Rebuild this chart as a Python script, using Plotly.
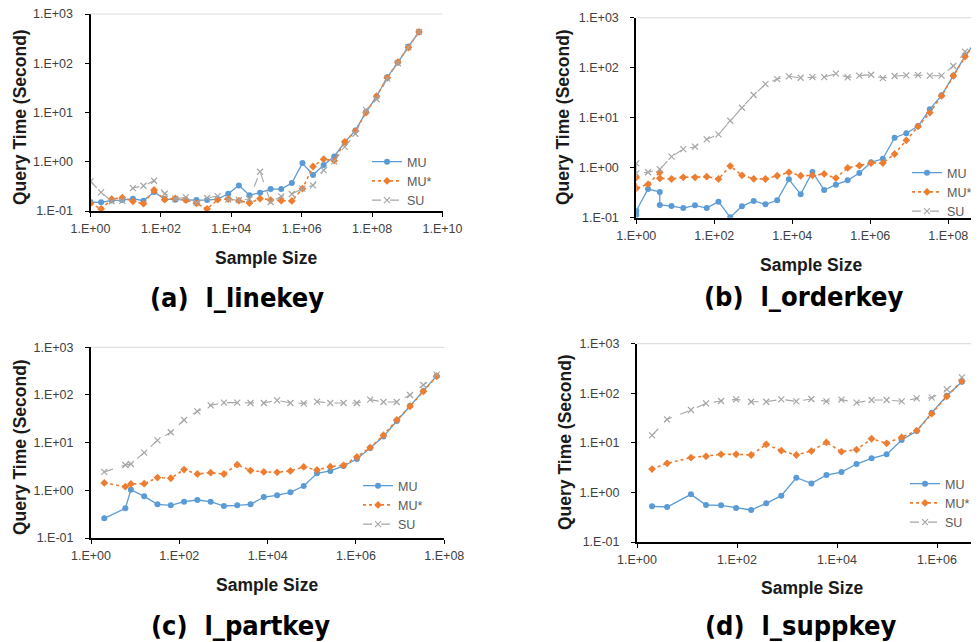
import plotly.graph_objects as go

W, H = 979, 642
OFF = 8  # page body margin of the rendered html

# ---------------- data ----------------
# (a) l_linekey
size_a = [1, 2, 4, 8, 16, 32, 64, 128, 256, 512, 1024, 2048, 4096, 8192, 16384, 32768,
          65536, 131072, 262144, 524288, 1048576, 2097152, 4194304, 8388608, 16777216,
          33554432, 67108864, 134217728, 268435456, 536870912, 1073741824, 2147483648]
mu_a = [0.152, 0.150, 0.164, 0.167, 0.178, 0.162, 0.243, 0.175, 0.170, 0.167, 0.167, 0.167,
        0.175, 0.224, 0.331, 0.208, 0.236, 0.279, 0.279, 0.370, 0.94, 0.537, 0.855, 1.28,
        2.5, 4.32, 10.2, 21.1, 52, 103, 218, 432]
mus_a = [0.143, 0.110, 0.175, 0.186, 0.157, 0.141, 0.267, 0.170, 0.181, 0.167, 0.143, 0.110,
         0.170, 0.175, 0.162, 0.145, 0.178, 0.167, 0.162, 0.160, 0.284, 0.80, 1.13, 1.05,
         2.54, 4.19, 10.0, 21.4, 50.5, 105, 208, 432]
su_a = [0.40, 0.239, 0.157, 0.160, 0.292, 0.326, 0.412, 0.224, 0.178, 0.189, 0.148, 0.184,
        0.201, 0.170, 0.167, 0.175, 0.627, 0.152, 0.198, 0.221, 0.284, 0.331, 0.677, 1.02,
        2.01, 3.7, 11.3, 18.6, 48.9, 100, 211, 432]

# (b) l_orderkey
size_b_mu = [1, 1, 2, 4, 4, 8, 16, 32, 64, 128, 256, 512, 1024, 2048, 4096, 8192, 16384,
             32768, 65536, 131072, 262144, 524288, 1048576, 2097152, 4194304, 8388608,
             16777216, 33554432, 67108864, 134217728, 268435456, 536870912]
mu_b = [0.113, 0.138, 0.375, 0.327, 0.180, 0.171, 0.156, 0.177, 0.156, 0.209, 0.102, 0.169,
        0.216, 0.185, 0.223, 0.586, 0.294, 0.82, 0.358, 0.457, 0.56, 0.783, 1.28, 1.51,
        3.98, 4.88, 6.82, 14.7, 28, 69.2, 171, 358]
size_b_mus = [1, 1, 2, 4, 4, 8, 16, 32, 64, 128, 256, 512, 1024, 2048, 4096, 8192, 16384,
              32768, 65536, 131072, 262144, 524288, 1048576, 2097152, 4194304, 8388608,
              16777216, 33554432, 67108864, 134217728, 268435456, 536870912]
mus_b = [0.643, 0.387, 0.466, 0.81, 0.614, 0.594, 0.643, 0.643, 0.66, 0.594, 1.08, 0.705,
         0.60, 0.594, 0.69, 0.81, 0.69, 0.70, 0.75, 0.62, 0.99, 1.1, 1.24, 1.24, 1.88,
         3.53, 6.7, 12.6, 27.2, 69, 166, 347]
size_b_su = [1, 1, 2, 4, 8, 16, 32, 64, 128, 256, 512, 1024, 2048, 4096, 8192, 16384,
             32768, 65536, 131072, 262144, 524288, 1048576, 2097152, 4194304, 8388608,
             16777216, 33554432, 67108864, 134217728, 268435456, 536870912]
su_b = [1.22, 0.77, 0.81, 0.93, 1.66, 2.36, 2.63, 3.69, 4.64, 8.7, 15.8, 28.4, 47.1, 59.3,
        67.1, 63, 65, 65, 75.9, 64, 69.2, 72.4, 62.1, 68.1, 70.3, 71.3, 69.2, 69.2, 108,
        209, 386]

# (c) l_partkey
size_c = [2, 6, 8, 16, 32, 64, 128, 256, 512, 1024, 2048, 4096, 8192, 16384, 32768, 65536,
          131072, 262144, 524288, 1048576, 2097152, 4194304, 8388608, 16777216, 33554432,
          67108864]
mu_c = [0.259, 0.419, 1.03, 0.748, 0.508, 0.484, 0.578, 0.627, 0.578, 0.469, 0.484, 0.508,
        0.724, 0.785, 0.908, 1.23, 2.27, 2.55, 3.24, 4.54, 7.73, 13.4, 28.5, 59.7, 121, 251]
mus_c = [1.43, 1.19, 1.36, 1.38, 1.85, 1.79, 2.72, 2.2, 2.35, 2.2, 3.45, 2.59, 2.43, 2.39,
         2.55, 3.09, 2.67, 3.14, 3.35, 5.0, 7.85, 14.3, 29.9, 57.8, 119, 247]
su_c = [2.43, 3.4, 3.57, 6.17, 11.2, 16.5, 29.9, 45.4, 60.7, 69, 69, 67.9, 67.9, 77.3, 67.9,
        66.8, 72.4, 67.9, 67.9, 67.9, 79.8, 71.3, 71.3, 100, 162, 267]

# (d) l_suppkey
size_d = [2, 4, 12, 24, 48, 96, 192, 384, 768, 1536, 3072, 6144, 12288, 24576, 49152, 98304,
          196608, 393216, 786432, 1572864, 3145728]
mu_d = [0.524, 0.508, 0.914, 0.557, 0.549, 0.485, 0.442, 0.603, 0.859, 1.98, 1.52, 2.24,
        2.58, 3.74, 4.87, 5.86, 11.4, 17.3, 40.6, 89.3, 171]
mus_d = [2.96, 3.86, 5.03, 5.35, 5.86, 5.86, 5.69, 9.33, 6.95, 5.69, 6.84, 10.2, 6.64, 7.28,
         12.1, 9.77, 12.9, 17.6, 38.7, 86.7, 177]
su_d = [14.2, 29.8, 45.9, 62.6, 69.8, 75.4, 67.6, 67.6, 75.4, 68.7, 76.6, 68.7, 74.3, 64.6,
        73.1, 73.1, 68.7, 78.9, 81.5, 120, 209]

series_names = ["MU", "MU*", "SU"]
captions = ["(a)\u00a0\u00a0l_linekey", "(b)\u00a0\u00a0l_orderkey",
            "(c)\u00a0\u00a0l_partkey", "(d)\u00a0\u00a0l_suppkey"]
x_title = "Sample Size"
y_title = "Query Time (Second)"
y_tickvals = [0.1, 1, 10, 100, 1000]
y_ticktext = ["1.E-01", "1.E+00", "1.E+01", "1.E+02", "1.E+03"]
x_tickvals = [1, 1e2, 1e4, 1e6, 1e8, 1e10]
x_ticktext = ["1.E+00", "1.E+02", "1.E+04", "1.E+06", "1.E+08", "1.E+10"]

# ---------------- styling ----------------
BLUE, ORANGE, GRAY = "#5B9BD5", "#ED7D31", "#A5A5A5"
TICKFONT = dict(family="Liberation Sans, Arial, sans-serif", size=12.5, color="#404040")
TITLEFONT = dict(family="Liberation Sans, Arial, sans-serif", size=17.5, color="#1a1a1a")
CAPFONT = dict(family="Liberation Sans Narrow, Arial Narrow, DejaVu Sans Condensed, sans-serif",
               size=27, color="#000000")
LEGFONT = dict(family="Liberation Sans, Arial, sans-serif", size=12.5, color="#595959")

def px_x(p):
    return (p - OFF) / W

def px_y(p):
    return 1 - (p - OFF) / H

# panel geometry in reference pixels
panels = [
    dict(x0=90.5, x1=442.5, xr=10.0, yt=14.0, yb=211.0),
    dict(x0=636.3, x1=979.0, xr=8.787, yt=17.7, yb=217.7),
    dict(x0=91.0, x1=444.3, xr=8.0, yt=347.3, yb=538.0),
    dict(x0=637.0, x1=979.0, xr=6.84, yt=343.7, yb=542.0),
]
data = [
    [(size_a, mu_a), (size_a, mus_a), (size_a, su_a)],
    [(size_b_mu, mu_b), (size_b_mus, mus_b), (size_b_su, su_b)],
    [(size_c, mu_c), (size_c, mus_c), (size_c, su_c)],
    [(size_d, mu_d), (size_d, mus_d), (size_d, su_d)],
]
# legend: text start x (px), first-row centre y (px)
leg_pos = [(409, 162), (949, 173), (400, 486), (947, 484)]
ytitle_pos = [(20, 117), (563, 117), (20, 447), (565, 442)]
xtitle_pos = [(266, 258), (811, 265), (267, 585), (812, 588)]
cap_pos = [(237, 298), (803, 296), (240, 625), (800, 625)]

styles = [
    dict(line=dict(color=BLUE, width=1.3, dash="solid"),
         marker=dict(symbol="circle", size=6, color=BLUE)),
    dict(line=dict(color=ORANGE, width=1.6, dash="dot"),
         marker=dict(symbol="diamond", size=6, color=ORANGE)),
    dict(line=dict(color=GRAY, width=1.1, dash="dash"),
         marker=dict(symbol="x-thin", size=6, color=GRAY, line=dict(color=GRAY, width=1.2))),
]

fig = go.Figure()
layout = dict(width=W, height=H, margin=dict(l=0, r=0, t=0, b=0, autoexpand=False),
              paper_bgcolor="white", plot_bgcolor="white", showlegend=True)
annotations = []
shapes = []

for i, p in enumerate(panels):
    n = "" if i == 0 else str(i + 1)
    xa, ya = "x" + n, "y" + n
    legname = "legend" + n
    for j, (xs, ys) in enumerate(data[i]):
        fig.add_trace(go.Scatter(x=xs, y=ys, mode="lines+markers", name=series_names[j],
                                 xaxis=xa, yaxis=ya, legend=legname, **styles[j]))
    nt = int(p["xr"] // 2) + 1
    layout["xaxis" + n] = dict(
        type="log", range=[0, p["xr"]], domain=[px_x(p["x0"]), px_x(p["x1"])],
        anchor=ya, showgrid=False, zeroline=False, showline=True, linecolor="black",
        linewidth=2, ticks="outside", ticklen=4, tickwidth=1, tickcolor="black",
        tickvals=x_tickvals[:nt], ticktext=x_ticktext[:nt], tickfont=TICKFONT,
        ticklabelstandoff=1, ticklabeloverflow="allow", automargin=False)
    layout["yaxis" + n] = dict(
        type="log", range=[-1, 3], domain=[px_y(p["yb"]), px_y(p["yt"])],
        anchor=xa, showgrid=False, zeroline=False, showline=True, linecolor="black",
        linewidth=2, ticks="outside", ticklen=4, tickwidth=1, tickcolor="black",
        tickvals=y_tickvals, ticktext=y_ticktext, tickfont=TICKFONT,
        ticklabelstandoff=9, ticklabeloverflow="allow", automargin=False)
    # light top gridline at 1.E+03
    shapes.append(dict(type="line", xref=xa + " domain", yref=ya + " domain",
                       x0=0, x1=1, y0=1, y1=1, line=dict(color="#D9D9D9", width=1)))
    lx, ly = leg_pos[i]
    layout[legname] = dict(x=px_x(lx - 42), y=px_y(ly - 15), xanchor="left", yanchor="top",
                           bgcolor="rgba(255,255,255,0)", borderwidth=0, font=LEGFONT,
                           tracegroupgap=0)
    tx, ty = ytitle_pos[i]
    annotations.append(dict(text="<b>%s</b>" % y_title, x=px_x(tx), y=px_y(ty),
                            xref="paper", yref="paper", showarrow=False, textangle=-90,
                            font=TITLEFONT, xanchor="center", yanchor="middle"))
    tx, ty = xtitle_pos[i]
    annotations.append(dict(text="<b>%s</b>" % x_title, x=px_x(tx), y=px_y(ty),
                            xref="paper", yref="paper", showarrow=False,
                            font=TITLEFONT, xanchor="center", yanchor="middle"))
    tx, ty = cap_pos[i]
    annotations.append(dict(text="<b>%s</b>" % captions[i], x=px_x(tx), y=px_y(ty),
                            xref="paper", yref="paper", showarrow=False,
                            font=CAPFONT, xanchor="center", yanchor="middle"))

layout["annotations"] = annotations
layout["shapes"] = shapes
fig.update_layout(**layout)
fig.write_html("out.html")
